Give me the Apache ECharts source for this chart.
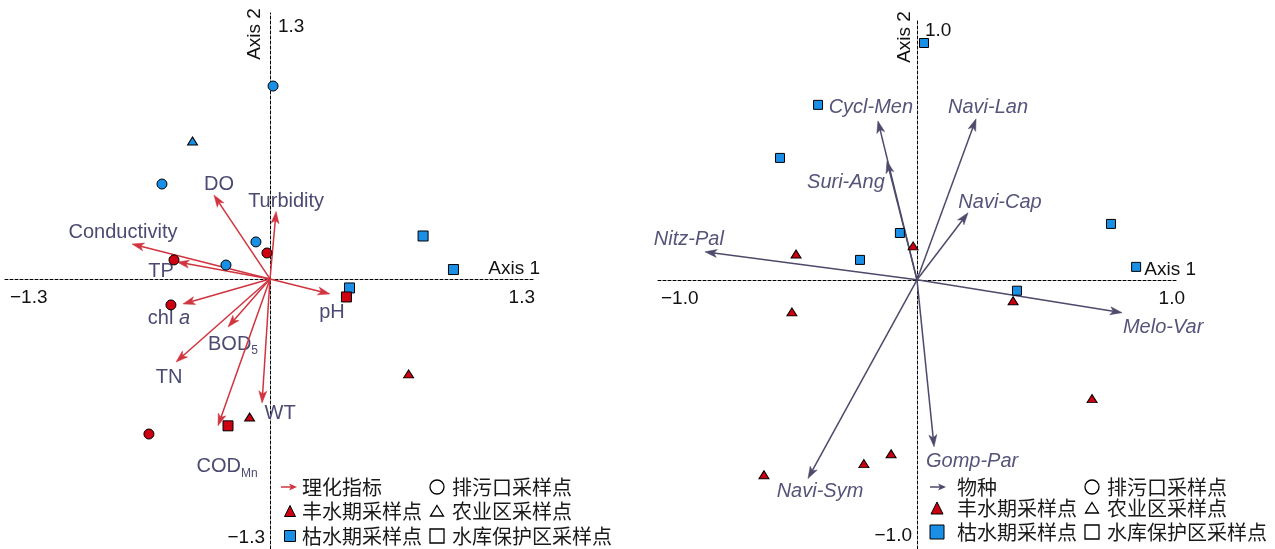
<!DOCTYPE html>
<html>
<head>
<meta charset="utf-8">
<script src="https://cdn.jsdelivr.net/npm/echarts@6/dist/echarts.min.js"></script>
<style>
  html, body { margin: 0; padding: 0; background: #fff; }
  #main { width: 1275px; height: 549px; }
</style>
</head>
<body>
<div id="main"></div>
<script>
// Two ordination biplots: physico-chemical indicators (left) and diatom species (right)

// ---- axis ticks ----
const leftTicks = [-1.3, 1.3];
const rightTicks = [-1.0, 1.0];
const axisNames = ['Axis 1', 'Axis 2'];

// ---- left plot: sampling sites (red = wet season, blue = dry season; shape = site type) ----
const leftWetOutfall   = [[-0.015, 0.127], [-0.471, 0.093], [-0.486, -0.127], [-0.594, -0.758]];
const leftWetFarm      = [[0.68, -0.464], [-0.10, -0.675]];
const leftWetReservoir = [[0.375, -0.088], [-0.206, -0.718]];
const leftDryOutfall   = [[0.015, 0.943], [-0.53, 0.464], [-0.069, 0.181], [-0.216, 0.068]];
const leftDryFarm      = [[-0.38, 0.674]];
const leftDryReservoir = [[0.751, 0.21], [0.90, 0.046], [0.39, -0.044]];

// ---- left plot: environmental vectors ----
const envNames  = ['DO', 'Turbidity', 'Conductivity', 'TP', 'pH', 'chl a', 'BOD5', 'TN', 'WT', 'CODMn'];
const envScores = [[-0.275, 0.41], [0.03, 0.33], [-0.677, 0.171], [-0.456, 0.083], [0.294, -0.073],
                   [-0.427, -0.122], [-0.206, -0.235], [-0.461, -0.406], [-0.039, -0.606], [-0.255, -0.718]];

// ---- right plot: sampling sites ----
const rightWet = [[-0.015, 0.131], [-0.467, 0.10], [0.371, -0.081], [-0.483, -0.124],
                  [0.676, -0.459], [-0.10, -0.672], [-0.205, -0.71], [-0.591, -0.753]];
const rightDry = [[0.027, 0.915], [-0.382, 0.676], [-0.529, 0.471], [-0.066, 0.181],
                  [-0.22, 0.077], [0.749, 0.216], [0.846, 0.05], [0.386, -0.042]];

// ---- right plot: species vectors ----
const speciesNames  = ['Cycl-Men', 'Suri-Ang', 'Navi-Lan', 'Navi-Cap', 'Nitz-Pal', 'Melo-Var', 'Gomp-Par', 'Navi-Sym'];
const speciesScores = [[-0.151, 0.614], [-0.116, 0.459], [0.228, 0.622], [0.197, 0.259],
                       [-0.819, 0.108], [0.792, -0.127], [0.066, -0.645], [-0.421, -0.768]];

// ---- legend entries ----
const legendLeft  = ['理化指标', '排污口采样点', '丰水期采样点', '农业区采样点', '枯水期采样点', '水库保护区采样点'];
const legendRight = ['物种', '排污口采样点', '丰水期采样点', '农业区采样点', '枯水期采样点', '水库保护区采样点'];

// ---- styling ----
const FONT = '"Liberation Sans", Arial, Helvetica, sans-serif';
const CJK = '"Noto Sans CJK SC", "Liberation Sans", sans-serif';
const RED = '#cc0010';
const BLUE = '#1a8fe6';
const ENV_COLOR = '#d0343f';
const ENV_TEXT = '#4b4a72';
const SPP_COLOR = '#4d4a6b';
const SPP_TEXT = '#56547a';

// label placement relative to each arrow tip (pixels)
const envLabelOffset = {
  'DO': [5, -11], 'Turbidity': [10, -10], 'Conductivity': [-9, -11], 'TP': [-16, 10], 'pH': [2, 19],
  'chl a': [-14, 15], 'BOD5': [5, 17], 'TN': [-7, 15], 'WT': [18, 11], 'CODMn': [9, 41]
};
const sppLabelOffset = {
  'Cycl-Men': [-7, -13], 'Suri-Ang': [-41, 21], 'Navi-Lan': [12, -11], 'Navi-Cap': [32, -10],
  'Nitz-Pal': [-16, -12], 'Melo-Var': [41, 15], 'Gomp-Par': [38, 15], 'Navi-Sym': [12, 13]
};

function richLabel(name) {
  if (name === 'chl a') return '{n|chl }{i|a}';
  if (name === 'BOD5') return '{n|BOD}{s|5}';
  if (name === 'CODMn') return '{n|COD}{s|Mn}';
  return '{n|' + name + '}';
}

function arrowRenderer(names, offsets, color, textColor, italic) {
  return function (params, api) {
    const o = api.coord([0, 0]);
    const t = api.coord([api.value(0), api.value(1)]);
    const dx = t[0] - o[0], dy = t[1] - o[1];
    const len = Math.sqrt(dx * dx + dy * dy) || 1;
    const ux = dx / len, uy = dy / len;
    const nx = -uy, ny = ux;
    const hl = 12, hw = 4, notch = 3;
    const bx = t[0] - ux * hl, by = t[1] - uy * hl;
    const mx = t[0] - ux * (hl - notch), my = t[1] - uy * (hl - notch);
    const name = names[params.dataIndex];
    const off = offsets[name] || [0, 0];
    const style = italic ? 'italic' : 'normal';
    return {
      type: 'group',
      children: [
        { type: 'line', shape: { x1: o[0], y1: o[1], x2: mx, y2: my },
          style: { stroke: color, lineWidth: 1.5 } },
        { type: 'polygon', shape: { points: [[t[0], t[1]], [bx + nx * hw, by + ny * hw], [mx, my], [bx - nx * hw, by - ny * hw]] },
          style: { fill: color, stroke: color, lineWidth: 0.5 } },
        { type: 'text', x: t[0] + off[0], y: t[1] + off[1],
          style: {
            text: richLabel(name), align: 'center', verticalAlign: 'middle',
            rich: {
              n: { fontSize: 20, fontFamily: FONT, fontStyle: style, fill: textColor, lineHeight: 26, verticalAlign: 'middle' },
              i: { fontSize: 20, fontFamily: FONT, fontStyle: 'italic', fill: textColor, lineHeight: 26 },
              s: { fontSize: 12, fontFamily: FONT, fill: textColor, lineHeight: 13, verticalAlign: 'bottom' }
            }
          } }
      ]
    };
  };
}

// the lower end runs a little past the last tick, down to the bottom edge
function axisCfg(min, max, gridIndex) {
  return {
    type: 'value', gridIndex: gridIndex, min: min, max: max,
    axisLine: { show: true, onZero: true, lineStyle: { color: '#000', width: 1, type: [3, 2] } },
    axisTick: { show: false }, axisLabel: { show: false }, splitLine: { show: false }
  };
}

function siteSeries(data, symbol, size, color, xi, z) {
  return {
    type: 'scatter', xAxisIndex: xi, yAxisIndex: xi, data: data, symbol: symbol, symbolSize: size,
    itemStyle: { color: color, borderColor: '#000', borderWidth: 1, opacity: 1 }, z: z, silent: true
  };
}

const chart = echarts.init(document.getElementById('main'), null, { renderer: 'canvas' });

const option = {
  animation: false,
  backgroundColor: '#fff',
  grid: [
    { left: 5, top: 13, width: 530, height: 536 },
    { left: 658, top: 21, width: 518, height: 528 }
  ],
  xAxis: [axisCfg(-1.3, 1.3, 0), axisCfg(-1.0, 1.0, 1)],
  yAxis: [axisCfg(-1.32, 1.3, 0), axisCfg(-1.04, 1.0, 1)],
  series: [
    { type: 'custom', xAxisIndex: 0, yAxisIndex: 0, data: envScores, clip: false, silent: true, z: 3,
      renderItem: arrowRenderer(envNames, envLabelOffset, ENV_COLOR, ENV_TEXT, false) },
    { type: 'custom', xAxisIndex: 1, yAxisIndex: 1, data: speciesScores, clip: false, silent: true, z: 3,
      renderItem: arrowRenderer(speciesNames, sppLabelOffset, SPP_COLOR, SPP_TEXT, true) },
    siteSeries(leftDryOutfall, 'circle', 10, BLUE, 0, 5),
    siteSeries(leftDryFarm, 'triangle', [10, 8], BLUE, 0, 5),
    siteSeries(leftDryReservoir, 'rect', 10, BLUE, 0, 5),
    siteSeries(leftWetOutfall, 'circle', 10, RED, 0, 6),
    siteSeries(leftWetFarm, 'triangle', [10, 8], RED, 0, 6),
    siteSeries(leftWetReservoir, 'rect', 10, RED, 0, 6),
    siteSeries(rightWet, 'triangle', [10, 8], RED, 1, 5),
    siteSeries(rightDry, 'rect', 9, BLUE, 1, 6)
  ]
};
chart.setOption(option);

// ---- tick labels, axis names and legends ----
function fmt(v) { return (v < 0 ? '\u2212' : '') + Math.abs(v).toFixed(1); }

function axisTexts(gi, ticks, l) {
  const px = (v) => chart.convertToPixel({ gridIndex: gi }, [v, 0]);
  const py = (v) => chart.convertToPixel({ gridIndex: gi }, [0, v]);
  const xMin = px(ticks[0]), xMax = px(ticks[1]);
  const yMax = py(ticks[1]), yMin = py(ticks[0]);
  const txt = (x, y, text, align, extra) => Object.assign({
    type: 'text', x: x, y: y, silent: true,
    style: { text: text, fill: '#111', font: '19px ' + FONT, align: align, verticalAlign: 'middle' }
  }, extra || {});
  return [
    txt(xMin[0] + l.minX, xMin[1] + 19, fmt(ticks[0]), 'left'),
    txt(xMax[0] + l.maxX, xMax[1] + 19, fmt(ticks[1]), 'right'),
    txt(yMax[0] + 8, yMax[1] + l.topY, fmt(ticks[1]), 'left'),
    txt(yMin[0] - 5, yMin[1] + l.botY, fmt(ticks[0]), 'right'),
    txt(xMax[0] + l.nameX, xMax[1] - 10, axisNames[0], 'right'),
    txt(yMax[0] + l.name2X, yMax[1] + l.name2Y, axisNames[1], 'center', { rotation: Math.PI / 2 })
  ];
}

function legendBlock(x0, xCol2, rows, labels, arrowColor) {
  const els = [];
  const text = (x, y, s) => ({ type: 'text', x: x, y: y, silent: true,
    style: { text: s, fill: '#1a1a1a', font: '20px ' + CJK, align: 'left', verticalAlign: 'middle' } });
  const ic = x0.icon, tx = x0.text;
  // arrow icon
  els.push({ type: 'line', silent: true, shape: { x1: ic - 8, y1: rows[0], x2: ic + 2, y2: rows[0] },
    style: { stroke: arrowColor, lineWidth: 1.5 } });
  els.push({ type: 'polygon', silent: true, shape: { points: [[ic + 8, rows[0]], [ic, rows[0] - 3.5], [ic + 2, rows[0]], [ic, rows[0] + 3.5]] },
    style: { fill: arrowColor } });
  els.push(text(tx, rows[0], labels[0]));
  // filled triangle (wet season)
  const ts = x0.tri;
  els.push({ type: 'polygon', silent: true, shape: { points: [[x0.mark, rows[1] - ts / 2], [x0.mark + ts / 2, rows[1] + ts / 2], [x0.mark - ts / 2, rows[1] + ts / 2]] },
    style: { fill: RED, stroke: '#000', lineWidth: 1 } });
  els.push(text(tx, rows[1], labels[2]));
  // filled square (dry season)
  const ss = x0.sq;
  els.push({ type: 'rect', silent: true, shape: { x: x0.mark - ss / 2, y: rows[2] - ss / 2, width: ss, height: ss },
    style: { fill: BLUE, stroke: '#000', lineWidth: 1 } });
  els.push(text(tx, rows[2], labels[4]));
  // hollow site-type symbols
  els.push({ type: 'circle', silent: true, shape: { cx: xCol2.mark, cy: rows[0], r: 7 },
    style: { fill: '#fff', stroke: '#000', lineWidth: 1.3 } });
  els.push(text(xCol2.text, rows[0], labels[1]));
  els.push({ type: 'polygon', silent: true, shape: { points: [[xCol2.mark, rows[1] - 5.5], [xCol2.mark + 6.5, rows[1] + 5], [xCol2.mark - 6.5, rows[1] + 5]] },
    style: { fill: '#fff', stroke: '#000', lineWidth: 1.3 } });
  els.push(text(xCol2.text, rows[1], labels[3]));
  els.push({ type: 'rect', silent: true, shape: { x: xCol2.mark - 7, y: rows[2] - 7, width: 14, height: 14 },
    style: { fill: '#fff', stroke: '#000', lineWidth: 1.3 } });
  els.push(text(xCol2.text, rows[2], labels[5]));
  return els;
}

const graphics = []
  .concat(axisTexts(0, leftTicks, { minX: 5, maxX: 0, topY: 14, botY: -7, nameX: 5, name2X: -15, name2Y: 21 }))
  .concat(axisTexts(1, rightTicks, { minX: 3, maxX: 9, topY: 10, botY: -3, nameX: 20, name2X: -12, name2Y: 16 }))
  .concat(legendBlock({ icon: 289, text: 302, mark: 290, tri: 11, sq: 11 }, { mark: 437, text: 452 },
                      [487, 511, 536], legendLeft, ENV_COLOR))
  .concat(legendBlock({ icon: 938, text: 957, mark: 937, tri: 12, sq: 14 }, { mark: 1092, text: 1107 },
                      [487, 508, 532], legendRight, SPP_COLOR));

chart.setOption({ graphic: { elements: graphics } });
</script>
</body>
</html>
